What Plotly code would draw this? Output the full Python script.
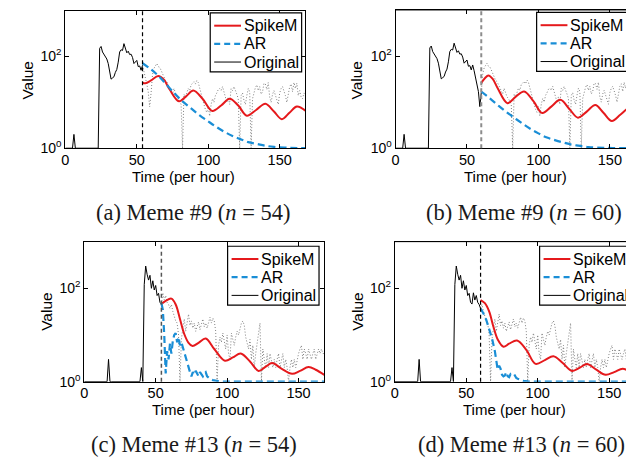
import plotly.graph_objects as go

# The page body has an 8px default margin, so the figure is sized to fill the 634x465 window exactly.
PAGE_W, PAGE_H = 634, 465
BODY = 8
W, H = PAGE_W - BODY, PAGE_H - BODY

# ---------------- data ----------------
hours = list(range(169))

meme9_counts = (
    [1, 1, 1, 1, 1, 1, 2] + [1] * 17 +
    [150, 165, 125, 112, 98, 88, 70, 42, 32, 34,
     36, 45, 52, 75, 125, 140, 135, 190, 140, 120,
     130, 110, 112, 95, 70, 78, 82, 60, 62, 50,
     64, 48, 32, 25, 17, 8, 16,
     40, 55, 62, 70, 60, 58, 50, 42, 38, 30,
     28, 24, 22, 18, 15, 20, 16, 13, 12, 10,
     9, 1, 15, 13, 17, 20, 18, 24, 26, 28,
     25, 30, 27, 20, 14, 11, 9, 7, 6, 8,
     5, 9, 12, 10, 14, 16, 19, 20, 18, 22,
     17, 14, 10, 13, 9, 20, 18, 22, 17, 15,
     12, 1, 14, 16, 11, 9, 14, 20, 17, 1,
     12, 16, 21, 24, 18, 22, 15, 17, 26, 25,
     19, 27, 13, 10, 15, 18, 14, 12, 9, 16,
     20, 22, 18, 14, 10, 17, 22, 25, 17, 27,
     20, 26, 14, 18, 13, 12, 16, 14]
)

meme13_counts = (
    [1] * 17 + [3] + [1] * 22 + [2, 1] +
    [120, 300, 200, 150, 190, 100, 145, 92, 115, 70,
     78, 50, 46, 80, 56, 70, 50, 45, 37,
     45, 32, 25, 20, 18, 10, 1, 8, 14, 22,
     12, 18, 28, 16, 20, 14, 18, 12, 16, 19,
     13, 17, 22, 15, 18, 14, 20, 24, 18, 23,
     20, 12, 1, 6, 9, 7, 11, 8, 5, 10,
     4, 3, 11, 8, 6, 9, 12, 10, 14, 18,
     20, 16, 9, 7, 5, 8, 3, 6, 2, 4,
     7, 12, 18, 1, 5, 3, 2, 4, 2, 4,
     3, 2, 3, 2, 3, 4, 2, 3, 4, 2,
     3, 2, 1, 2, 3, 2, 3, 2, 3, 4,
     5, 6, 3, 5, 4, 3, 5, 4, 3, 4,
     5, 3, 4, 5, 4, 5, 4, 4]
)
assert len(meme9_counts) == 169, len(meme9_counts)
assert len(meme13_counts) == 169, len(meme13_counts)

# SpikeM fits
spike_a_t = [54, 56, 60, 65, 69, 73, 79.5, 84.5, 89.5, 96, 102.8, 109, 115, 121, 127, 133.5, 140, 146, 151.5, 157, 162, 168]
spike_a_v = [27, 26, 30, 37.5, 31, 19, 10.5, 13.5, 18, 12, 6.5, 8.5, 12, 8.5, 5.1, 6.8, 9.3, 6.3, 4.3, 6, 8.1, 6.6]
spike_b_t = [60, 62.5, 65, 68, 71.5, 78.3, 84, 90, 96.5, 102.7, 109, 115.4, 121.5, 127.7, 134, 139.8, 145.5, 151.4, 157.5, 163.7, 168]
spike_b_v = [26, 33, 38, 32, 20, 9.5, 13, 17, 10.5, 5.8, 8, 11.2, 7.2, 4.6, 6.3, 8.7, 5.9, 3.9, 5.4, 7.4, 6.0]
spike_c_t = [54, 57, 61, 64, 67, 70, 73, 75.8, 80, 85, 91, 98.5, 104, 109.5, 116, 122, 127, 131.5, 138, 145.5, 151, 157, 162, 168]
spike_c_v = [46, 54, 60, 45, 22, 10.5, 6.8, 5.8, 6.8, 8.4, 5.0, 2.8, 3.3, 4.0, 2.7, 1.7, 2.1, 2.5, 1.9, 1.47, 1.7, 2.05, 1.8, 1.4]
spike_d_t = [60, 63, 66, 69, 72, 76, 80, 85.5, 92, 98.5, 105, 111, 117.5, 124, 129.5, 134.5, 141, 147.5, 153.5, 159.5, 165, 168]
spike_d_v = [56, 48, 32, 15, 8.0, 5.6, 6.5, 7.6, 4.8, 2.4, 2.9, 3.5, 2.5, 1.7, 2.0, 2.4, 1.8, 1.4, 1.6, 1.9, 1.6, 1.5]

# AR fits
ar_a_t = [54, 60, 65, 70, 76.5, 82, 88, 94, 99.7, 105, 111, 117, 123, 128, 134.4, 140, 146, 157, 168]
ar_a_v = [71, 52, 38, 26, 15.5, 10.5, 7.4, 5.2, 3.9, 3.0, 2.3, 1.85, 1.55, 1.36, 1.23, 1.13, 1.07, 1.02, 1.0]
ar_b_t = [60, 66, 71.4, 77, 83, 89, 94.6, 100, 106, 112, 117.8, 123, 129.3, 135, 141, 152, 168]
ar_b_v = [17, 12, 8.7, 6.3, 4.6, 3.4, 2.6, 2.1, 1.7, 1.48, 1.32, 1.2, 1.12, 1.06, 1.03, 1.01, 1.0]
ar_c_t = [54, 55, 56, 57, 58, 59, 60, 61, 62, 63, 64, 65, 66, 67, 68, 69, 70, 71, 72, 73, 74, 75, 76, 77, 78, 79, 80,
          81, 82, 83, 84, 85, 86, 87, 88, 90, 92, 95, 100, 168]
ar_c_v = [48, 35, 10, 1.5, 4.5, 3, 6.5, 4, 7.5, 10, 11, 7, 9, 6, 7, 5.5, 4, 3, 2.5, 2, 1.6, 1.3, 1.6, 1.4, 1.7, 1.5, 1.3,
          1.6, 1.4, 1.3, 1.5, 1.6, 1.3, 1.2, 1.15, 1.08, 1.04, 1.01, 1.0, 1.0]
ar_d_t = [60, 62, 64, 66, 68, 70, 71, 72, 73, 74, 75, 76, 77, 78, 79, 80, 81, 82, 83, 84, 85, 86, 88, 90, 93, 100, 168]
ar_d_v = [37, 29, 21, 14, 8.5, 4.5, 3, 1.8, 2.2, 1.9, 1.4, 1.3, 1.35, 1.6, 1.3, 1.25, 1.45, 1.4, 1.3, 1.35, 1.2, 1.15,
          1.08, 1.04, 1.01, 1.0, 1.0]

panel_labels = ["(a) Meme #9", "(b) Meme #9", "(c) Meme #13", "(d) Meme #13"]
panel_n = [54, 60, 54, 60]
series_names = ["SpikeM", "AR", "Original"]
x_ticks = [0, 50, 100, 150]
y_ticks = [1, 100]
y_ticktext = ["10<sup>0</sup>", "10<sup>2</sup>"]

# ---------------- layout geometry (window pixels) ----------------
panels = [
    dict(counts=meme9_counts, st=spike_a_t, sv=spike_a_v, at=ar_a_t, av=ar_a_v, ar_shape="spline",
         x0=61.7, x1=303.3, y0=10.6, y1=150.7, xmax=168, mirror_y=True, vcol="#000000", vw=1.2,
         leg=(207.5, 13), ylab=(24, 81), xlab=(181, 179.5), cap=(191, 216)),
    dict(counts=meme9_counts, st=spike_b_t, sv=spike_b_v, at=ar_b_t, av=ar_b_v, ar_shape="spline",
         x0=394.0, x1=634, y0=10.0, y1=150.7, xmax=240 / 1.438, mirror_y=False, vcol="#8c8c8c", vw=2,
         leg=(536, 12.5), ylab=(355, 81), xlab=(515, 179.5), cap=(523, 216)),
    dict(counts=meme13_counts, st=spike_c_t, sv=spike_c_v, at=ar_c_t, av=ar_c_v, ar_shape="linear",
         x0=80.7, x1=322.3, y0=245.8, y1=388.3, xmax=168, mirror_y=True, vcol="#555555", vw=1.5,
         leg=(225, 250.5), ylab=(42.5, 317), xlab=(201, 417), cap=(191.5, 452)),
    dict(counts=meme13_counts, st=spike_d_t, sv=spike_d_v, at=ar_d_t, av=ar_d_v, ar_shape="linear",
         x0=393.3, x1=634, y0=245.8, y1=388.3, xmax=240.7 / 1.438, mirror_y=False, vcol="#000000", vw=1.2,
         leg=(539, 250.5), ylab=(355.5, 317), xlab=(514, 417), cap=(521, 452)),
]

RED = "#e5191c"
BLUE = "#1a8ed6"
SANS = "Liberation Sans"
SERIF = "Liberation Serif"
LEG_W, LEG_H = 92, 60
LEG_ROWS = [13, 31.5, 50]
series_styles = [dict(color=RED, width=2), dict(color=BLUE, width=2.2, dash="6px,4px"), dict(color="black", width=1)]


def px(xp):
    return (xp - BODY) / W


def py(yp):
    return 1 - (yp - BODY) / H


fig = go.Figure()
layout = dict(width=W, height=H, margin=dict(l=0, r=0, t=0, b=0),
              paper_bgcolor="white", plot_bgcolor="white", showlegend=False,
              font=dict(family=SANS, size=14, color="black"))
annotations = []
shapes = []

for i, p in enumerate(panels):
    k = "" if i == 0 else str(i + 1)
    xa, ya = "x" + k, "y" + k
    n = panel_n[i]
    c = p["counts"]
    orig_t, orig_v = hours[:n + 1], c[:n + 1]
    fut_t, fut_v = hours[n:], c[n:]

    fig.add_trace(go.Scatter(x=fut_t, y=fut_v, mode="lines", xaxis=xa, yaxis=ya,
                             line=dict(color="#808080", width=1, dash="1px,2px"), hoverinfo="skip"))
    fig.add_trace(go.Scatter(x=orig_t, y=orig_v, mode="lines", xaxis=xa, yaxis=ya, name="Original",
                             line=dict(color="black", width=1)))
    fig.add_trace(go.Scatter(x=p["st"], y=p["sv"], mode="lines", xaxis=xa, yaxis=ya, name="SpikeM",
                             line=dict(color=RED, width=2, shape="spline", smoothing=1.0)))
    ar_line = dict(color=BLUE, width=2.2, dash="7px,4px", shape=p["ar_shape"])
    if p["ar_shape"] == "spline":
        ar_line["smoothing"] = 1.0
    fig.add_trace(go.Scatter(x=p["at"], y=p["av"], mode="lines", xaxis=xa, yaxis=ya, name="AR",
                             line=ar_line))

    shapes.append(dict(type="line", xref=xa, yref=ya + " domain", x0=n, x1=n, y0=0, y1=1,
                       line=dict(color=p["vcol"], width=p["vw"], dash="4px,3px"), layer="above"))

    xdom = [px(p["x0"]), min(px(p["x1"]), 1.0)]
    ydom = [py(p["y1"]), py(p["y0"])]
    axis_common = dict(showgrid=False, zeroline=False, showline=True, linecolor="black", linewidth=1,
                       ticks="inside", ticklen=4, tickcolor="black")
    layout["xaxis" + k] = dict(axis_common, domain=xdom, anchor=ya, range=[0, p["xmax"]],
                               tickmode="array", tickvals=x_ticks, mirror="ticks",
                               ticklabelstandoff=-2,
                               tickfont=dict(family=SANS, size=14.5, color="black"))
    layout["yaxis" + k] = dict(axis_common, domain=ydom, anchor=xa, type="log", range=[0, 3],
                               tickmode="array", tickvals=y_ticks, ticktext=y_ticktext,
                               tickfont=dict(family=SANS, size=14, color="black"),
                               mirror="ticks" if p["mirror_y"] else False)
    if not p["mirror_y"]:
        shapes.append(dict(type="line", xref="paper", yref="paper", x0=xdom[0], x1=1.0,
                           y0=ydom[1], y1=ydom[1], line=dict(color="black", width=1)))

    # legend box (drawn by hand to match the compact MATLAB legend)
    lx, ly = p["leg"]
    shapes.append(dict(type="rect", xref="paper", yref="paper", x0=px(lx), x1=px(lx + LEG_W),
                       y0=py(ly + LEG_H), y1=py(ly), fillcolor="white",
                       line=dict(color="black", width=1.2), layer="above"))
    for name, sty, r in zip(series_names, series_styles, LEG_ROWS):
        shapes.append(dict(type="line", xref="paper", yref="paper", x0=px(lx + 4), x1=px(lx + 31),
                           y0=py(ly + r), y1=py(ly + r), line=sty, layer="above"))
        annotations.append(dict(text=name, xref="paper", yref="paper", x=px(lx + 32), y=py(ly + r),
                                xanchor="left", yanchor="middle", showarrow=False,
                                font=dict(family=SANS, size=16, color="black")))

    annotations.append(dict(text="Value", xref="paper", yref="paper", x=px(p["ylab"][0]),
                            y=py(p["ylab"][1]), xanchor="center", yanchor="middle",
                            textangle=-90, showarrow=False, font=dict(family=SANS, size=15.5, color="black")))
    annotations.append(dict(text="Time (per hour)", xref="paper", yref="paper", x=px(p["xlab"][0]),
                            y=py(p["xlab"][1]), xanchor="center", yanchor="middle",
                            showarrow=False, font=dict(family=SANS, size=15, color="black")))
    annotations.append(dict(text=panel_labels[i] + " (<i>n</i>&#8197;=&#8197;" + str(n) + ")",
                            xref="paper", yref="paper", x=px(p["cap"][0]), y=py(p["cap"][1]),
                            xanchor="center", yanchor="middle", showarrow=False,
                            font=dict(family=SERIF, size=22.5, color="#1a1a1a")))

layout["annotations"] = annotations
layout["shapes"] = shapes
fig.update_layout(**layout)
fig.write_html("out.html")
